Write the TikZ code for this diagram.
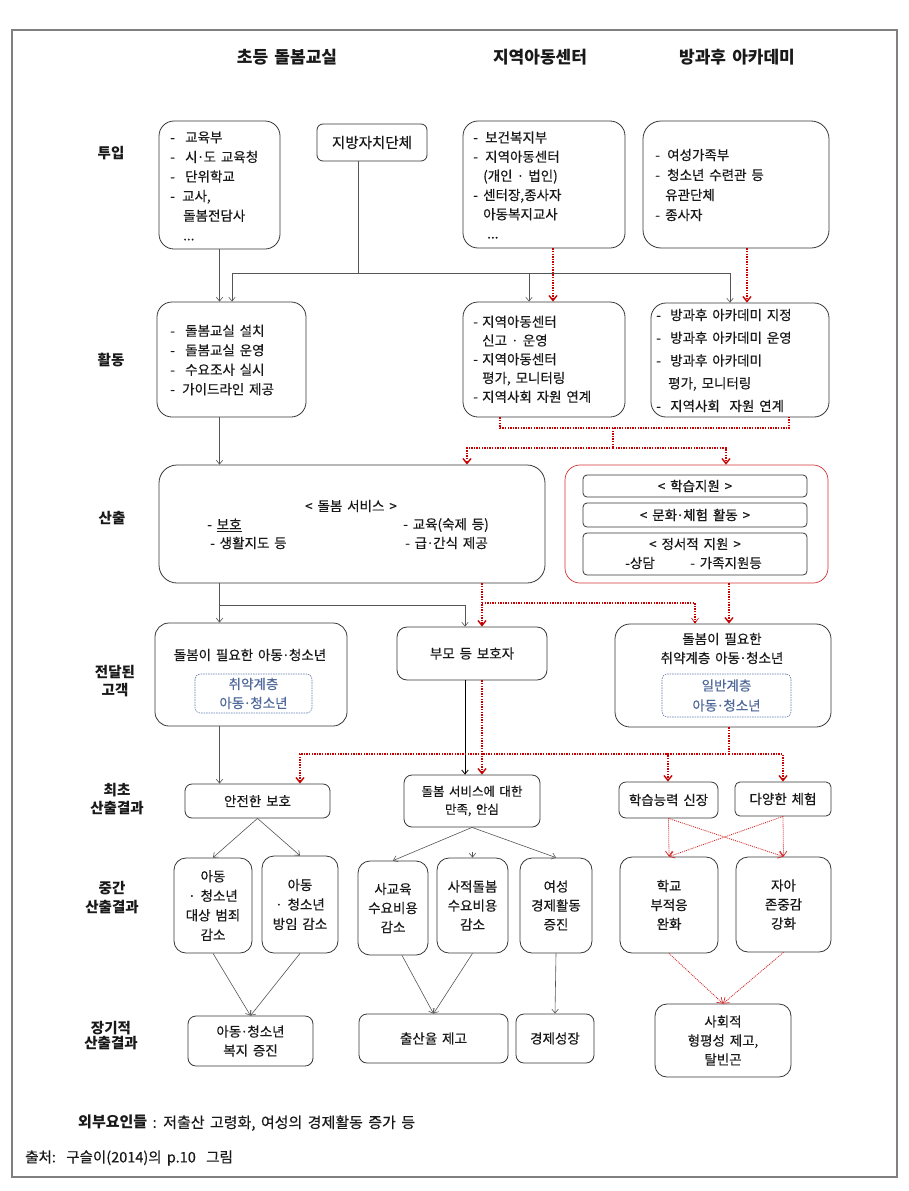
\documentclass[tikz,border=0pt]{standalone}
\usepackage{fontspec}
\setmainfont[WordSpace=1.6, UprightFeatures={FakeBold=0.35}]{Noto Sans CJK KR}
\usetikzlibrary{arrows.meta}
\definecolor{framec}{RGB}{128,128,128}
\definecolor{lnc}{RGB}{85,85,85}
\definecolor{bdc}{RGB}{55,55,55}
\definecolor{rdc}{RGB}{200,0,0}
\definecolor{blc}{RGB}{95,120,170}
\definecolor{bltxt}{RGB}{80,105,155}
\newcommand\di[2][15pt]{\makebox[#1][l]{-}#2}
\newcommand\ind[2][15pt]{\hspace*{#1}#2}
\newcommand\md{\makebox[0.45em][c]{\hbox to 0pt{\hss·\hss}}}
\tikzset{
  every node/.style={inner sep=0pt, font={\fontsize{13.5}{19}\selectfont}, text=black!90},
  bx/.style={draw=bdc, line width=0.8pt, rounded corners=#1, align=center},
  bx/.default=12pt,
  ibx/.style={draw=bdc, line width=0.8pt, rounded corners=4pt, align=center},
  dbx/.style={draw=blc, line width=0.6pt, dash pattern=on 1.5pt off 1pt, rounded corners=5pt, align=center, text=bltxt},
  hd/.style={font={\fontsize{17}{20}\selectfont\bfseries}},
  lb/.style={font={\fontsize{14.5}{18.5}\selectfont\bfseries}, align=center},
  tl/.style={anchor=west, align=left},
  gln/.style={draw=lnc, line width=0.6pt},
  gar/.style={draw=lnc, line width=0.6pt, -{Straight Barb[length=4pt,width=6.5pt]}},
  kar/.style={draw=black, line width=0.8pt, -{Straight Barb[length=4pt,width=6.5pt]}},
  rln/.style={draw=rdc, line width=1.5pt, dash pattern=on 1.4pt off 1.2pt},
  rar/.style={rln, -{Straight Barb[length=5pt,width=8pt,line width=1.4pt]}},
  rar2/.style={rln, -{Straight Barb[length=5pt,width=7pt,line width=0.6pt]}},
  rthin/.style={draw=rdc!85, line width=0.8pt, dash pattern=on 1pt off 1pt, -{Straight Barb[length=5pt,width=7pt,line width=0.7pt]}}
}
\begin{document}
\begin{tikzpicture}[x=1pt,y=-1pt]
\fill[white] (0,0) rectangle (908,1191);
\useasboundingbox (0,0) rectangle (908,1191);
\draw[draw=framec, line width=2pt] (12,30) rectangle (897,1177);

% headers
\node[hd] (h1) at (287,57) {초등 돌봄교실};
\node[hd] (h2) at (540,57) {지역아동센터};
\node[hd] (h3) at (737,57) {방과후 아카데미};

% row labels
\node[lb] (l1) at (111,153) {투입};
\node[lb] (l2) at (111,360) {활동};
\node[lb] (l3) at (112,518) {산출};
\node[lb] (l4) at (115,681) {전달된\\고객};
\node[lb] (l5) at (117,799) {최초\\산출결과};
\node[lb] (l6) at (112,897.5) {중간\\산출결과};
\node[lb, font={\fontsize{14.5}{15}\selectfont\bfseries}] (l7) at (111,1035.5) {장기적\\산출결과};

% inputs
\node[bx=15pt, minimum width=121, minimum height=128] (A1) at (219.5,185) {};
\node[tl, font={\fontsize{13.5}{19.6}\selectfont}] (A1t) at (170,186) {\di{교육부}\\\di{시\md 도 교육청}\\\di{단위학교}\\\di[12pt]{교사,}\\\ind[13pt]{돌봄전담사}\\\ind[13pt]{...}};
\node[bx=6pt, minimum width=110, minimum height=37, font={\fontsize{14.5}{19}\selectfont}] (AL) at (372,142.5) {지방자치단체};
\node[bx=15pt, minimum width=162, minimum height=127] (A2) at (544,184.5) {};
\node[tl, font={\fontsize{13.5}{19.2}\selectfont}] (A2t) at (473,185) {\di[12pt]{보건복지부}\\\di[12pt]{지역아동센터}\\\ind[10pt]{(개인 \md\ 법인)}\\\di[10pt]{센터장,종사자}\\\ind[10pt]{아동복지교사}\\\ind[14pt]{...}};
\node[bx=18pt, minimum width=186, minimum height=127] (A3) at (736,184.5) {};
\node[tl, font={\fontsize{13.5}{20}\selectfont}] (A3t) at (655,185) {\di[12pt]{여성가족부}\\\di[12pt]{청소년 수련관 등}\\\ind[10pt]{유관단체}\\\di[10pt]{종사자}};

% activities
\node[bx=15pt, minimum width=149, minimum height=115] (B1) at (231.5,359.5) {};
\node[tl, font={\fontsize{13.5}{19.5}\selectfont}] (B1t) at (170,360) {\di{돌봄교실 설치}\\\di{돌봄교실 운영}\\\di{수요조사 실시}\\\di[12pt]{가이드라인 제공}};
\node[bx=15pt, minimum width=162, minimum height=115] (B2) at (544,359.5) {};
\node[tl, font={\fontsize{13.5}{18.75}\selectfont}] (B2t) at (473,359.2) {\di[9pt]{지역아동센터}\\\ind[9pt]{신고 \md\ 운영}\\\di[9pt]{지역아동센터}\\\ind[9pt]{평가, 모니터링}\\\di[9pt]{지역사회 자원 연계}};
\node[bx=15pt, minimum width=178, minimum height=114] (B3) at (740,360) {};
\node[tl, font={\fontsize{13.5}{22.75}\selectfont}] (B3t) at (656,360.5) {\di[14pt]{방과후 아카데미 지정}\\\di[14pt]{방과후 아카데미 운영}\\\di[14pt]{방과후 아카데미}\\\ind[12pt]{평가, 모니터링}\\\di[14pt]{지역사회 \ 자원 연계}};

% outputs
\node[bx=18pt, minimum width=386, minimum height=118] (C1) at (352,524) {};
\node (C1h) at (351,506) {< 돌봄 서비스 >};
\node[anchor=west] (C1a) at (207,525) {- \underline{보호}};
\node[anchor=west] (C1b) at (210,543) {- 생활지도 등};
\node[anchor=west] (C1c) at (403,525) {- 교육(숙제 등)};
\node[anchor=west] (C1d) at (405,543) {- 급\md 간식 제공};
\node[bx=15pt, draw=rdc!80, line width=0.7pt, minimum width=263, minimum height=118] (C2) at (696.5,524) {};
\node[ibx, minimum width=224, minimum height=22] (C2a) at (695,486) {< 학습지원 >};
\node[ibx, minimum width=224, minimum height=24] (C2b) at (695,515) {< 문화\md 체험 활동 >};
\node[ibx, minimum width=224, minimum height=42] (C2c) at (695,554) {};
\node (C2ct) at (695,544) {< 정서적 지원 >};
\node[anchor=west] (C2cl) at (625,563) {-상담};
\node[anchor=west] (C2cr) at (690,563) {- 가족지원등};

% delivered customers
\node[bx=14pt, minimum width=192, minimum height=103] (D1) at (251,674.5) {};
\node (D1t) at (250,655) {돌봄이 필요한 아동\md 청소년};
\node[dbx, minimum width=117, minimum height=39] (D1i) at (253.5,693.5) {취약계층\\아동\md 청소년};
\node[bx=10pt, minimum width=150, minimum height=53] (D2) at (472,653.5) {부모 등 보호자};
\node[bx=15pt, minimum width=216, minimum height=103] (D3) at (723,675.5) {};
\node[align=center] (D3t) at (722,648.5) {돌봄이 필요한\\취약계층 아동\md 청소년};
\node[dbx, minimum width=129, minimum height=43, font={\fontsize{13.5}{20}\selectfont}] (D3i) at (726.5,695.5) {일반계층\\아동\md 청소년};

% first outcomes
\node[bx=7pt, minimum width=145, minimum height=34] (E1) at (257.5,801) {안전한 보호};
\node[bx=8pt, minimum width=136, minimum height=52, font={\fontsize{12.5}{18}\selectfont}] (E2) at (472,801) {돌봄 서비스에 대한\\만족, 안심};
\node[bx=7pt, minimum width=99, minimum height=36] (E3) at (668.5,800) {학습능력 신장};
\node[bx=5pt, minimum width=96, minimum height=34] (E4) at (783,799) {다양한 체험};

% intermediate outcomes
\node[bx=12pt, minimum width=78, minimum height=95, font={\fontsize{13.5}{19.5}\selectfont}] (F1) at (213,905.5) {아동\\· 청소년\\대상 범죄\\감소};
\node[bx=12pt, minimum width=76, minimum height=97, font={\fontsize{13.5}{19.5}\selectfont}] (F2) at (300,904.5) {아동\\· 청소년\\방임 감소};
\node[bx=12pt, minimum width=70, minimum height=94] (F3) at (393,908) {사교육\\수요비용\\감소};
\node[bx=12pt, minimum width=71, minimum height=95] (F4) at (472.5,905.5) {사적돌봄\\수요비용\\감소};
\node[bx=12pt, minimum width=72, minimum height=95] (F5) at (556,905.5) {여성\\경제활동\\증진};
\node[bx=12pt, minimum width=98, minimum height=96] (F6) at (669,905) {학교\\부적응\\완화};
\node[bx=12pt, minimum width=95, minimum height=95] (F7) at (783.5,904.5) {자아\\존중감\\강화};

% long-term outcomes
\node[bx=8pt, minimum width=125, minimum height=50] (G1) at (250.5,1041) {아동\md 청소년\\복지 증진};
\node[bx=8pt, minimum width=149, minimum height=49] (G2) at (433.5,1038.5) {출산율 제고};
\node[bx=8pt, minimum width=78, minimum height=49] (G3) at (555,1038.5) {경제성장};
\node[bx=12pt, minimum width=136, minimum height=73] (G4) at (723,1040.5) {사회적\\형평성 제고,\\탈빈곤};

% footer
\node[anchor=west, font={\fontsize{15}{19}\selectfont}] (ext) at (78,1123) {\textbf{외부요인들} : 저출산 고령화, 여성의 경제활동 증가 등};
\node[anchor=west, font={\fontsize{14.5}{19}\selectfont}] (src) at (25,1158) {출처:\ \ 구슬이(2014)의 p.10\ \ 그림};

% ---- connectors ----
\coordinate (cA) at (219.5,0);
\draw[gar] (A1.south -| cA) -- (B1.north -| cA);
\coordinate (J0) at (358,273);
\coordinate (J1) at (232,273);
\coordinate (J2) at (529,273);
\coordinate (J3) at (730,273);
\draw[gln] (AL.south -| J0) -- (J0);
\draw[gln] (J1) -- (J3);
\draw[gar] (J1) -- (B1.north -| J1);
\draw[gar] (J2) -- (B2.north -| J2);
\draw[gar] (J3) -- (B3.north -| J3);
\coordinate (R1) at (553,0);
\coordinate (R2) at (747,0);
\draw[rar] (A2.south -| R1) -- (B2.north -| R1);
\draw[rar] (A3.south -| R2) -- (B3.north -| R2);

\coordinate (K1) at (500,428);
\coordinate (K2) at (789,428);
\coordinate (K3) at (613,428);
\coordinate (K4) at (613,448);
\coordinate (K5) at (467,448);
\coordinate (K6) at (726,448);
\draw[rln] (B2.south -| K1) -- (K1) -- (K2) -- (B3.south -| K2);
\draw[rln] (K3) -- (K4);
\draw[rar] (K4) -| (C1.north -| K5);
\draw[rar] (K4) -| (C2.north -| K6);
\draw[gar] (B1.south -| cA) -- (C1.north -| cA);

\coordinate (L1) at (219.5,605);
\coordinate (L2) at (465,605);
\draw[gar] (C1.south -| cA) -- (D1.north -| cA);
\draw[gar] (L1) -| (D2.north -| L2);
\coordinate (M1) at (482,0);
\coordinate (M2) at (482,603);
\coordinate (M3) at (695,603);
\coordinate (M4) at (729,0);
\draw[rar] (C1.south -| M1) -- (D2.north -| M1);
\draw[rar2] (M2) -| (D3.north -| M3);
\draw[rar] (C2.south -| M4) -- (D3.north -| M4);

\draw[gar] (D1.south -| cA) -- (E1.north -| cA);
\coordinate (N1) at (465,0);
\draw[kar] (D2.south -| N1) -- (E2.north -| N1);
\draw[rar] (D2.south -| M1) -- (E2.north -| M1);
\coordinate (P0) at (729,754);
\coordinate (P1) at (300,754);
\coordinate (P3) at (668,754);
\coordinate (P4) at (783,754);
\draw[rln] (D3.south -| P0) -- (P0);
\draw[rar] (P0) -| (E1.north -| P1);
\draw[rar] (P0) -| (E3.north -| P3);
\draw[rar] (P0) -| (E4.north -| P4);

\draw[gar] (E1.south) -- (F1.north);
\draw[gar] (E1.south) -- (F2.north);
\draw[gar] (E2.south) -- (F3.north);
\draw[gar] (E2.south) -- (F5.north);
\draw[gar] ([yshift=6pt]F4.north) -- (F4.north);
\draw[rthin] (E3.south) -- (F6.north);
\draw[rthin] (E3.south) -- (F7.north);
\draw[rthin] (E4.south) -- (F7.north);
\draw[rthin] (E4.south) -- (F6.north);

\draw[gar] (F1.south) -- (G1.north);
\draw[gar] (F2.south) -- (G1.north);
\draw[gar] ([xshift=9pt]F3.south) -- (G2.north);
\draw[gar] (F4.south) -- (G2.north);
\draw[gar] (F5.south) -- (G3.north);
\draw[rthin] (F6.south) -- (G4.north);
\draw[rthin] (F7.south) -- (G4.north);
\end{tikzpicture}
\end{document}
